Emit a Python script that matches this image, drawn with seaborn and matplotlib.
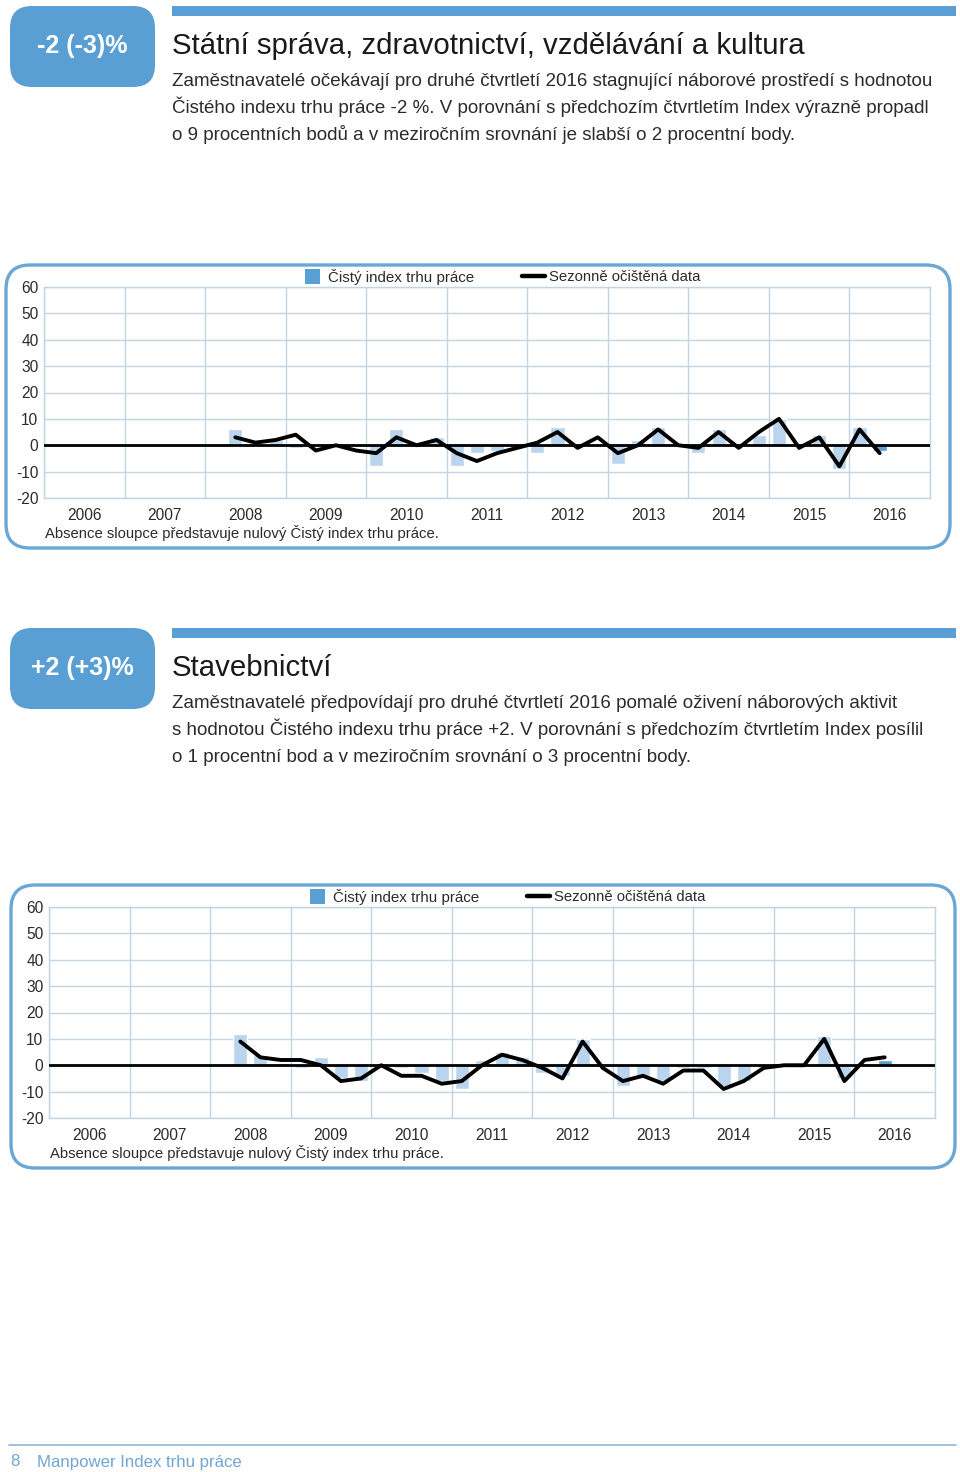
import numpy as np
import pandas as pd
import matplotlib
matplotlib.use("Agg")
import matplotlib.pyplot as plt
import seaborn as sns
from matplotlib.patches import FancyBboxPatch, Rectangle
from matplotlib.lines import Line2D
from matplotlib.ticker import FixedLocator

W, H = 960, 1472

# categories
years = list(range(2006, 2017))
quarters = [(y, q) for y in range(2008, 2017) for q in range(1, 5)][1:34]  # 2008Q2 .. 2016Q2
y_ticks = [60, 50, 40, 30, 20, 10, 0, -10, -20]

# Státní správa, zdravotnictví, vzdělávání a kultura
gov_index = [6, 1, 2, -1, 1, 1, 0, -8, 6, 0, 3, -8, -3, -2, -1, -3, 7,
             0, 0, -7, 2, 7, 0, -3, 6, 0, 4, 10, 0, 4, -9, 7, -2]
gov_adjusted = [3, 1, 2, 4, -2, 0, -2, -3, 3, 0, 2, -3, -6, -3, -1, 1, 5,
                -1, 3, -3, 0, 6, 0, -1, 5, -1, 5, 10, -1, 3, -8, 6, -3]

# Stavebnictví
con_index = [12, 4, 1, -1, 3, -5, -6, -1, -1, -3, -6, -9, 2, 5, 3, -3, -4,
             10, 0, -8, -4, -6, -1, -1, -8, -6, -1, 0, 0, 11, -5, 1, 2]
con_adjusted = [9, 3, 2, 2, 0, -6, -5, 0, -4, -4, -7, -6, 0, 4, 2, -1, -5,
                9, -1, -6, -4, -7, -2, -2, -9, -6, -1, 0, 0, 10, -6, 2, 3]

gov_badge = "-2 (-3)%"
gov_title = "Státní správa, zdravotnictví, vzdělávání a kultura"
gov_text = [
    "Zaměstnavatelé očekávají pro druhé čtvrtletí 2016 stagnující náborové prostředí s hodnotou",
    "Čistého indexu trhu práce -2 %. V porovnání s předchozím čtvrtletím Index výrazně propadl",
    "o 9 procentních bodů a v meziročním srovnání je slabší o 2 procentní body.",
]
con_badge = "+2 (+3)%"
con_title = "Stavebnictví"
con_text = [
    "Zaměstnavatelé předpovídají pro druhé čtvrtletí 2016 pomalé oživení náborových aktivit",
    "s hodnotou Čistého indexu trhu práce +2. V porovnání s předchozím čtvrtletím Index posílil",
    "o 1 procentní bod a v meziročním srovnání o 3 procentní body.",
]
legend_bar = "Čistý index trhu práce"
legend_line = "Sezonně očištěná data"
note = "Absence sloupce představuje nulový Čistý index trhu práce."

BLUE = "#5a9fd4"
BAR = "#b9d4ec"
GRID = "#c3d5e0"
EDGE = "#6aa6d6"
TXT = "#2b2b2b"

sns.set_theme(style="white")
plt.rcParams["font.family"] = ["Liberation Sans", "DejaVu Sans"]
plt.rcParams["axes.unicode_minus"] = False

fig = plt.figure(figsize=(9.6, 14.72), dpi=100)
bg = fig.add_axes([0, 0, 1, 1])
bg.set_xlim(0, W)
bg.set_ylim(H, 0)
bg.axis("off")


def fig_rect(x0, y0, x1, y1):
    return [x0 / W, 1 - y1 / H, (x1 - x0) / W, (y1 - y0) / H]


def draw_header(top, badge, title, lines):
    bg.add_patch(FancyBboxPatch((10, top), 145, 81, boxstyle="round,pad=0,rounding_size=22",
                                fc=BLUE, ec="none"))
    bg.text(82, top + 40, badge, color="white", fontsize=18, fontweight="bold",
            ha="center", va="center")
    bg.add_patch(Rectangle((172, top), 784, 10, color=BLUE, lw=0))
    bg.text(172, top + 48, title, color="#1a1a1a", fontsize=21.2, va="baseline")
    for i, line in enumerate(lines):
        bg.text(172, top + 80 + 27 * i, line, color=TXT, fontsize=13.5, va="baseline")


def draw_chart(box, axbox, index_vals, adj_vals):
    bx0, by0, bx1, by1 = box
    bg.add_patch(FancyBboxPatch((bx0, by0), bx1 - bx0, by1 - by0,
                                boxstyle="round,pad=0,rounding_size=24",
                                fc="white", ec=EDGE, lw=2.4))
    ax0, ay0, ax1, ay1 = axbox

    # legend
    lx = ax0 + 261
    bg.add_patch(Rectangle((lx, ay0 - 18), 15, 15, color=BLUE, lw=0))
    bg.text(lx + 23, ay0 - 10, legend_bar, color=TXT, fontsize=10.9, va="center")
    bg.add_line(Line2D([lx + 217, lx + 240], [ay0 - 11, ay0 - 11], color="black", lw=3.2))
    bg.text(lx + 244, ay0 - 10, legend_line, color=TXT, fontsize=10.7, va="center")
    bg.text(ax0 + 1, ay1 + 35, note, color=TXT, fontsize=10.7, va="center")

    ax = fig.add_axes(fig_rect(ax0, ay0, ax1, ay1))
    df = pd.DataFrame({
        "pos": [y + (q - 2.5) / 4 for y, q in quarters],
        "index": index_vals,
        "adjusted": adj_vals,
    })
    sns.barplot(data=df, x="pos", y="index", native_scale=True, color=BAR,
                saturation=1, width=0.7, errorbar=None, ax=ax, zorder=2)
    ax.patches[-1].set_facecolor(BLUE)
    ax.axhline(0, color="black", lw=2.0, zorder=3)
    sns.lineplot(data=df, x="pos", y="adjusted", color="black", lw=2.8,
                 errorbar=None, ax=ax, zorder=4)

    ax.set_xlim(2005.5, 2016.5)
    ax.set_ylim(-20, 60)
    ax.set_xticks(years)
    ax.set_xticklabels([str(y) for y in years])
    ax.xaxis.set_minor_locator(FixedLocator(np.arange(2005.5, 2017, 1)))
    ax.set_yticks(y_ticks)
    ax.grid(False)
    ax.grid(which="minor", axis="x", color=GRID, lw=1)
    ax.grid(which="major", axis="y", color=GRID, lw=1)
    ax.set_axisbelow(True)
    ax.tick_params(which="both", length=0, labelsize=11.2, colors=TXT)
    ax.tick_params(axis="x", pad=7.5)
    ax.tick_params(axis="y", pad=4)
    for s in ax.spines.values():
        s.set_visible(True)
        s.set_color(GRID)
        s.set_linewidth(1)
    ax.set_xlabel("")
    ax.set_ylabel("")


draw_header(6, gov_badge, gov_title, gov_text)
draw_chart((6, 265, 950, 548), (44, 287, 930, 498), gov_index, gov_adjusted)

draw_header(628, con_badge, con_title, con_text)
draw_chart((11, 885, 955, 1168), (49, 907, 935, 1118), con_index, con_adjusted)

# footer
bg.add_line(Line2D([9, 956], [1445, 1445], color="#8fb8d6", lw=1.2))
bg.text(10, 1462, "8", color="#6fa6d2", fontsize=12.2, va="center")
bg.text(37, 1462, "Manpower Index trhu práce", color="#6fa6d2", fontsize=12.1, va="center")

fig.savefig("out.png", dpi=100)
